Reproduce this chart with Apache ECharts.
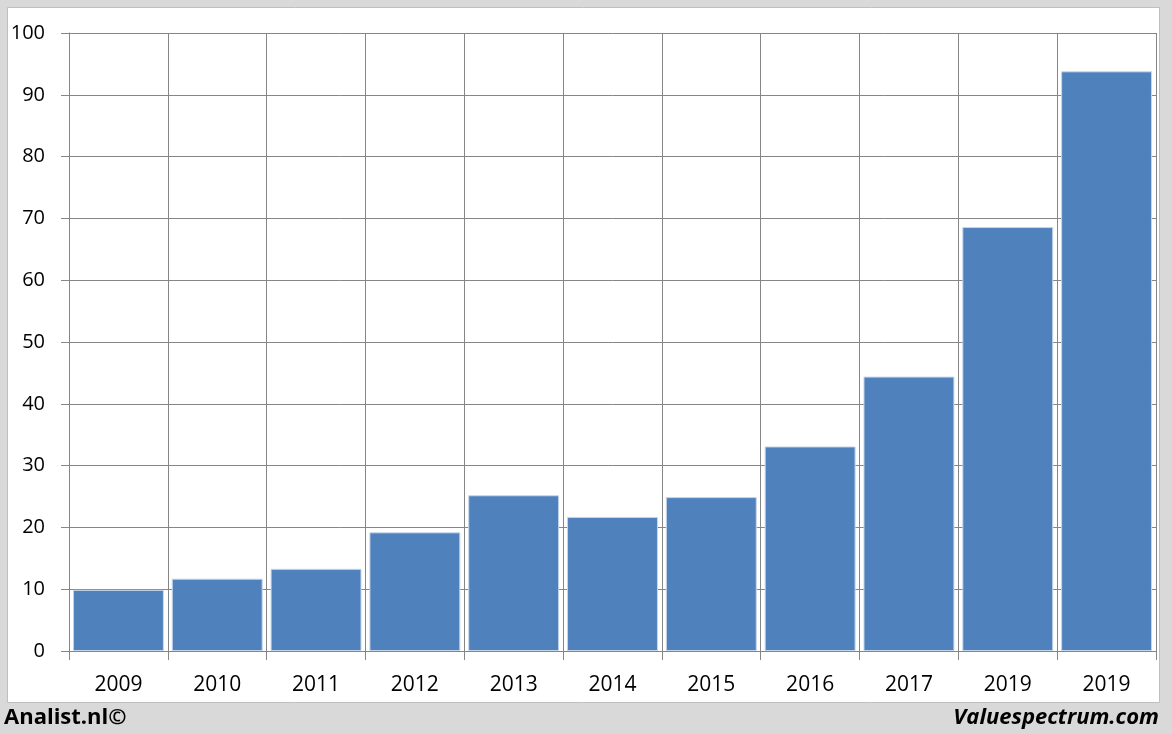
<!DOCTYPE html>
<html><head><meta charset="utf-8">
<script src="https://cdn.jsdelivr.net/npm/echarts@6/dist/echarts.min.js"></script>
<style>html,body{margin:0;padding:0;background:#d9d9d9;}#c{width:1172px;height:734px;}</style>
</head><body><div id="c"></div>
<script>
const categories = ['2009','2010','2011','2012','2013','2014','2015','2016','2017','2019','2019'];
const values = [9.9, 11.7, 13.3, 19.2, 25.2, 21.7, 24.9, 33.1, 44.4, 68.6, 93.8];
const yTicks = [0, 10, 20, 30, 40, 50, 60, 70, 80, 90, 100];

const chart = echarts.init(document.getElementById('c'));
const font = 'Open Sans, Lato, sans-serif';
chart.setOption({
  backgroundColor: '#d9d9d9',
  animation: false,
  graphic: [
    {type:'rect', z:-10, shape:{x:7.5,y:7.5,width:1152,height:695}, style:{fill:'#ffffff', stroke:'#bfbfbf', lineWidth:1}},
    {type:'text', left:4, top:707, style:{text:'Analist.nl©', font:'bold 22px '+font, fill:'#000'}},
    {type:'text', right:13, top:707, style:{text:'Valuespectrum.com', font:'italic bold 22px '+font, fill:'#000'}}
  ],
  grid: {left:69, right:16, top:33, bottom:83},
  xAxis: {
    type:'category', data:categories,
    axisLine:{lineStyle:{color:'#868686'}},
    axisTick:{show:true, length:9, lineStyle:{color:'#868686'}},
    splitLine:{show:true, lineStyle:{color:'#868686', width:1}},
    axisLabel:{color:'#000', fontSize:21, fontFamily:font, margin:24}
  },
  yAxis: {
    type:'value', min:yTicks[0], max:yTicks[yTicks.length-1], interval:10,
    axisLine:{show:true, lineStyle:{color:'#868686'}},
    axisTick:{show:true, length:8, lineStyle:{color:'#868686'}},
    splitLine:{show:true, lineStyle:{color:'#868686', width:1}},
    axisLabel:{color:'#000', fontSize:20, fontFamily:font, margin:24}
  },
  series: [{
    type:'bar', data:values, barCategoryGap:'8%',
    itemStyle:{color:'#4f81bd', borderColor:'#c6d6ea', borderWidth:1}
  }]
});
</script></body></html>
